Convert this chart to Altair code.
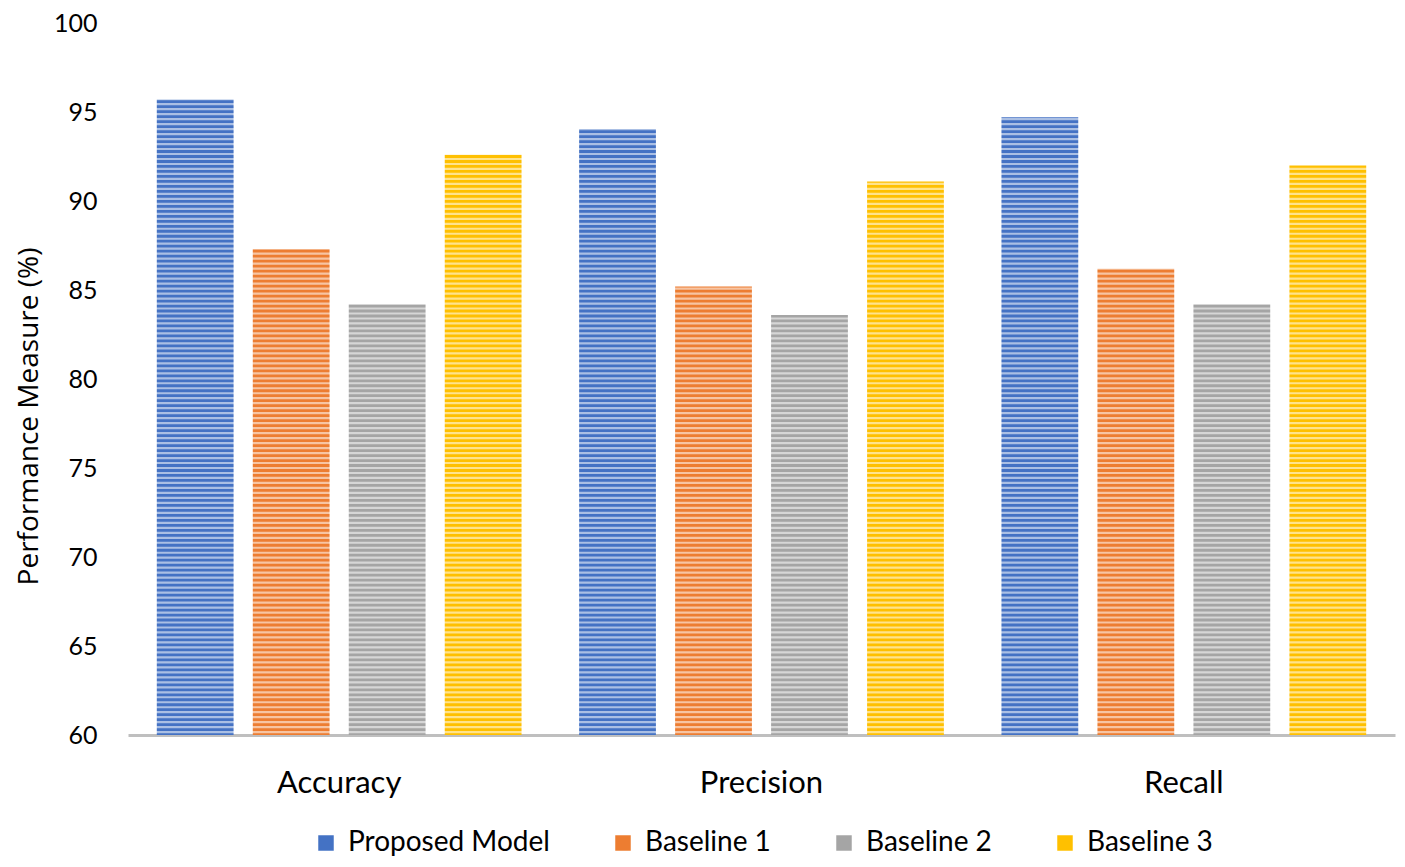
import altair as alt
import pandas as pd
import numpy as np

metrics = ["Accuracy", "Precision", "Recall"]
models = ["Proposed Model", "Baseline 1", "Baseline 2", "Baseline 3"]
proposed = [95.7, 94.05, 94.7]
baseline1 = [87.3, 85.2, 86.2]
baseline2 = [84.2, 83.6, 84.2]
baseline3 = [92.6, 91.1, 92.0]
colors = ["#4472C4", "#ED7D31", "#A5A5A5", "#FFC000"]
y_ticks = [60, 65, 70, 75, 80, 85, 90, 95, 100]

rows = []
for series, name in zip([proposed, baseline1, baseline2, baseline3], models):
    for m, v in zip(metrics, series):
        rows.append({"metric": m, "model": name, "value": v})
df = pd.DataFrame(rows)

# decorative horizontal stripe texture (pitch in data units)
stripe_pitch = 0.28
stripes = pd.DataFrame({"s": np.arange(60.16, 99.9, stripe_pitch)})

FONT = "Lato"

bars = alt.Chart(df).mark_bar(clip=True).encode(
    x=alt.X("metric:N", sort=metrics,
            scale=alt.Scale(paddingInner=0, paddingOuter=0),
            axis=alt.Axis(title=None, labelAngle=0, ticks=False,
                          domainColor="#BFBFBF", domainWidth=3,
                          labelFontSize=31, labelFont=FONT, labelColor="#000000",
                          labelPadding=33)),
    xOffset=alt.XOffset("model:N", sort=models,
                        scale=alt.Scale(paddingInner=0.2, paddingOuter=0.3)),
    y=alt.Y("value:Q",
            scale=alt.Scale(domain=[60, 100], zero=False, nice=False),
            axis=alt.Axis(title="Performance Measure (%)", values=y_ticks,
                          grid=False, domain=False, ticks=False,
                          labelFontSize=25, labelFont=FONT, labelColor="#000000",
                          labelPadding=31, titleFontSize=28, titleFont="Open Sans",
                          titleFontWeight="normal", titleColor="#000000",
                          titlePadding=10, titleY=393)),
    y2=alt.datum(60),
    color=alt.Color("model:N", sort=models,
                    scale=alt.Scale(domain=models, range=colors),
                    legend=alt.Legend(title=None, orient="none",
                                      direction="horizontal",
                                      legendX=184, legendY=806,
                                      symbolType="square", symbolSize=240,
                                      symbolStrokeWidth=0,
                                      labelFontSize=28, labelFont=FONT,
                                      labelColor="#000000", columnPadding=59,
                                      labelOffset=8, labelLimit=400)),
)

stripe_layer = alt.Chart(stripes).mark_rule(
    color="white", strokeWidth=2.2, opacity=0.55
).encode(y=alt.Y("s:Q"))

chart = alt.layer(bars, stripe_layer).properties(
    width=1267, height=712,
    padding={"left": 120, "top": 15, "right": 2, "bottom": 122},
    autosize=alt.AutoSizeParams(type="none"),
).configure_view(stroke=None)

chart.save("out.html", embed_options={"renderer": "svg", "actions": False})
